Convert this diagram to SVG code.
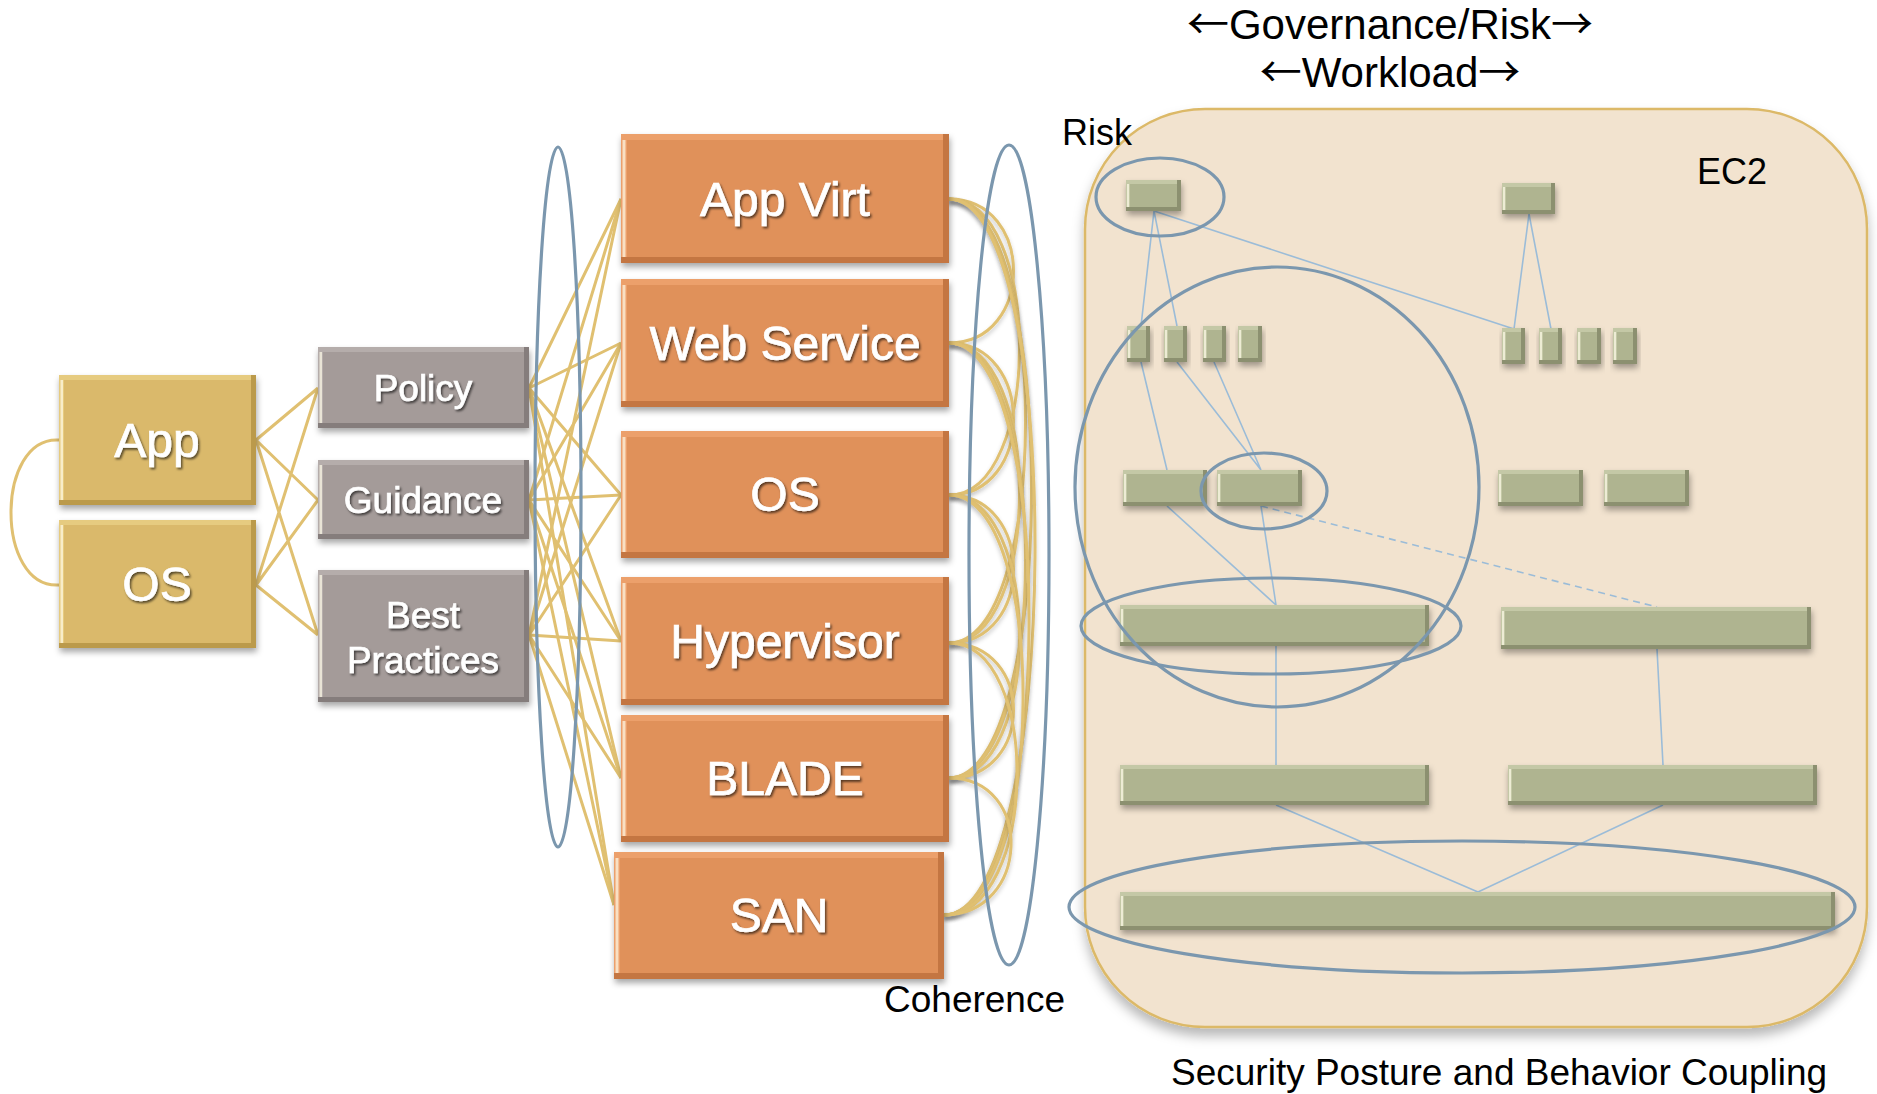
<svg xmlns="http://www.w3.org/2000/svg" width="1877" height="1094" viewBox="0 0 1877 1094">
<defs>
  <filter id="sh" x="-10%" y="-15%" width="125%" height="150%">
    <feDropShadow dx="1" dy="4" stdDeviation="3" flood-color="#000" flood-opacity="0.35"/>
  </filter>
  <filter id="ts" x="-5%" y="-20%" width="115%" height="150%">
    <feDropShadow dx="1.5" dy="2" stdDeviation="1.3" flood-color="#000" flood-opacity="0.6"/>
  </filter>
  <filter id="psh" x="-5%" y="-5%" width="110%" height="115%">
    <feDropShadow dx="0" dy="8" stdDeviation="6" flood-color="#000" flood-opacity="0.28"/>
  </filter>
  <filter id="lsh" x="-10%" y="-10%" width="130%" height="130%">
    <feDropShadow dx="0" dy="3" stdDeviation="2" flood-color="#000" flood-opacity="0.22"/>
  </filter>
</defs>
<style>
  text{font-family:"Liberation Sans",Arial,sans-serif}
  .lbl{fill:#000}
  .arw{font-family:"Noto Sans CJK JP","DejaVu Sans",sans-serif}
  .wt{fill:#fff;stroke:#fff;stroke-width:0.7;text-anchor:middle;filter:url(#ts)}
  .gold .o{fill:#bb9a4b}.gold .l{fill:#e6cb80}.gold .m{fill:#dab96b}
  .grey .o{fill:#857d7b}.grey .l{fill:#b5adab}.grey .m{fill:#a49b99}
  .org .o{fill:#c47643}.org .l{fill:#eca06b}.org .m{fill:#e0915a}
  .grn .o{fill:#8c9070}.grn .l{fill:#c4c8a6}.grn .m{fill:#afb490}
  .hl{fill:#fffbe8;opacity:.7}
  .o{filter:url(#sh)}
  .gl{fill:none;stroke:#e0c071;stroke-width:3}
  .cv{fill:none;stroke:#e0c071;stroke-width:3;filter:url(#lsh)}
  .ring{fill:none;stroke:#7b97ae;stroke-width:3.2}
  .tl{fill:none;stroke:#9bbcd8;stroke-width:1.6}
  .dash{stroke-dasharray:7 5}
</style>

<rect width="1877" height="1094" fill="#fff"/>

<!-- EC2 container -->
<g id="ec2-panel">
  <rect x="1085" y="109" width="782" height="918" rx="120" fill="#f2e3cf" stroke="#dcb968" stroke-width="2.5" filter="url(#psh)"/>
</g>

<g id="connectors">
  <!-- App / OS coupling -->
  <path class="gl" d="M59 440 C-5 436 -5 589 59 585"/>
  <path class="gl" d="M256 440 L318 388 M256 440 L318 500 M256 440 L318 635 M256 585 L318 388 M256 585 L318 500 M256 585 L318 635"/>
  <!-- guidance layer to stack -->
  <path class="gl" d="M529 388 L621 199 M529 388 L621 343 M529 388 L621 495 M529 388 L621 641 M529 388 L621 778 M529 388 L614 905"/>
  <path class="gl" d="M529 500 L621 199 M529 500 L621 343 M529 500 L621 495 M529 500 L621 641 M529 500 L621 778 M529 500 L614 905"/>
  <path class="gl" d="M529 635 L621 199 M529 635 L621 343 M529 635 L621 495 M529 635 L621 641 M529 635 L621 778 M529 635 L614 905"/>
  <!-- coherence among stack layers -->
  <path class="cv" d="M949 199 C1035 199 1035 343 949 343"/>
  <path class="cv" d="M949 199 C1043 199 1043 495 949 495"/>
  <path class="cv" d="M949 199 C1051 199 1051 643 949 643"/>
  <path class="cv" d="M949 199 C1059 199 1059 778 949 778"/>
  <path class="cv" d="M949 199 C1067 199 1062 915 944 915"/>
  <path class="cv" d="M949 343 C1035 343 1035 495 949 495"/>
  <path class="cv" d="M949 343 C1043 343 1043 643 949 643"/>
  <path class="cv" d="M949 343 C1051 343 1051 778 949 778"/>
  <path class="cv" d="M949 343 C1059 343 1054 915 944 915"/>
  <path class="cv" d="M949 495 C1035 495 1035 643 949 643"/>
  <path class="cv" d="M949 495 C1043 495 1043 778 949 778"/>
  <path class="cv" d="M949 495 C1051 495 1046 915 944 915"/>
  <path class="cv" d="M949 643 C1035 643 1035 778 949 778"/>
  <path class="cv" d="M949 643 C1043 643 1038 915 944 915"/>
  <path class="cv" d="M949 778 C1035 778 1030 915 944 915"/>
  <!-- workload tree -->
  <path class="tl" d="M1154 211 L1141 326 M1154 211 L1177 326 M1154 211 L1514 329"/>
  <path class="tl" d="M1529 214 L1514 329 M1529 214 L1551 329"/>
  <path class="tl" d="M1141 362 L1167 470 M1177 362 L1261 470 M1214 362 L1261 470"/>
  <path class="tl" d="M1167 506 L1276 605 M1261 506 L1276 605"/>
  <path class="tl dash" d="M1261 506 L1657 607"/>
  <path class="tl" d="M1276 646 L1276 765 M1657 649 L1663 765"/>
  <path class="tl" d="M1276 805 L1478 892 M1663 805 L1478 892"/>
</g>

<!-- workload nodes -->
<g id="app" class="gold">
  <rect class="o" x="59" y="375" width="197" height="130"/><rect class="l" x="59" y="375" width="192" height="125"/><rect class="m" x="64" y="380" width="187" height="120"/><rect class="hl" x="60.5" y="380" width="2.5" height="120"/>
  <text class="wt" x="157" y="457" font-size="48">App</text>
</g>
<g id="os-left" class="gold">
  <rect class="o" x="59" y="520" width="197" height="128"/><rect class="l" x="59" y="520" width="192" height="123"/><rect class="m" x="64" y="525" width="187" height="118"/><rect class="hl" x="60.5" y="525" width="2.5" height="118"/>
  <text class="wt" x="157" y="601" font-size="48">OS</text>
</g>

<g id="policy" class="grey">
  <rect class="o" x="318" y="347" width="211" height="81"/><rect class="l" x="318" y="347" width="206" height="76"/><rect class="m" x="323" y="352" width="201" height="71"/><rect class="hl" x="319.5" y="352" width="2.5" height="71"/>
  <text class="wt" x="423" y="401" font-size="37">Policy</text>
</g>
<g id="guidance" class="grey">
  <rect class="o" x="318" y="460" width="211" height="79"/><rect class="l" x="318" y="460" width="206" height="74"/><rect class="m" x="323" y="465" width="201" height="69"/><rect class="hl" x="319.5" y="465" width="2.5" height="69"/>
  <text class="wt" x="423" y="513" font-size="37">Guidance</text>
</g>
<g id="best-practices" class="grey">
  <rect class="o" x="318" y="570" width="211" height="132"/><rect class="l" x="318" y="570" width="206" height="127"/><rect class="m" x="323" y="575" width="201" height="122"/><rect class="hl" x="319.5" y="575" width="2.5" height="122"/>
  <text class="wt" x="423" y="628" font-size="37">Best</text>
  <text class="wt" x="423" y="673" font-size="37">Practices</text>
</g>

<g id="app-virt" class="org">
  <rect class="o" x="621" y="134" width="328" height="129"/><rect class="l" x="621" y="134" width="322" height="123"/><rect class="m" x="627" y="140" width="316" height="117"/><rect class="hl" x="622.5" y="140" width="3" height="117"/>
  <text class="wt" x="785" y="216" font-size="48">App Virt</text>
</g>
<g id="web-service" class="org">
  <rect class="o" x="621" y="279" width="328" height="128"/><rect class="l" x="621" y="279" width="322" height="122"/><rect class="m" x="627" y="285" width="316" height="116"/><rect class="hl" x="622.5" y="285" width="3" height="116"/>
  <text class="wt" x="785" y="360" font-size="48">Web Service</text>
</g>
<g id="os-stack" class="org">
  <rect class="o" x="621" y="431" width="328" height="127"/><rect class="l" x="621" y="431" width="322" height="121"/><rect class="m" x="627" y="437" width="316" height="115"/><rect class="hl" x="622.5" y="437" width="3" height="115"/>
  <text class="wt" x="785" y="511" font-size="48">OS</text>
</g>
<g id="hypervisor" class="org">
  <rect class="o" x="621" y="577" width="328" height="128"/><rect class="l" x="621" y="577" width="322" height="122"/><rect class="m" x="627" y="583" width="316" height="116"/><rect class="hl" x="622.5" y="583" width="3" height="116"/>
  <text class="wt" x="785" y="658" font-size="48">Hypervisor</text>
</g>
<g id="blade" class="org">
  <rect class="o" x="621" y="715" width="328" height="127"/><rect class="l" x="621" y="715" width="322" height="121"/><rect class="m" x="627" y="721" width="316" height="115"/><rect class="hl" x="622.5" y="721" width="3" height="115"/>
  <text class="wt" x="785" y="795" font-size="48">BLADE</text>
</g>
<g id="san" class="org">
  <rect class="o" x="614" y="852" width="330" height="127"/><rect class="l" x="614" y="852" width="324" height="121"/><rect class="m" x="620" y="858" width="318" height="115"/><rect class="hl" x="615.5" y="858" width="3" height="115"/>
  <text class="wt" x="779" y="932" font-size="48">SAN</text>
</g>

<!-- EC2 posture tree -->
<g id="risk-root-a" class="grn"><rect class="o" x="1126" y="180" width="55" height="31"/><rect class="l" x="1126" y="180" width="51" height="27"/><rect class="m" x="1130" y="184" width="47" height="23"/><rect class="hl" x="1127" y="184" width="2" height="23"/></g>
<g id="risk-root-b" class="grn"><rect class="o" x="1502" y="183" width="53" height="31"/><rect class="l" x="1502" y="183" width="49" height="27"/><rect class="m" x="1506" y="187" width="45" height="23"/><rect class="hl" x="1503" y="187" width="2" height="23"/></g>

<g id="tier2-a1" class="grn"><rect class="o" x="1127" y="326" width="23" height="36"/><rect class="l" x="1127" y="326" width="19" height="32"/><rect class="m" x="1131" y="330" width="15" height="28"/><rect class="hl" x="1128" y="330" width="2" height="28"/></g>
<g id="tier2-a2" class="grn"><rect class="o" x="1164" y="326" width="23" height="36"/><rect class="l" x="1164" y="326" width="19" height="32"/><rect class="m" x="1168" y="330" width="15" height="28"/><rect class="hl" x="1165" y="330" width="2" height="28"/></g>
<g id="tier2-a3" class="grn"><rect class="o" x="1203" y="326" width="23" height="36"/><rect class="l" x="1203" y="326" width="19" height="32"/><rect class="m" x="1207" y="330" width="15" height="28"/><rect class="hl" x="1204" y="330" width="2" height="28"/></g>
<g id="tier2-a4" class="grn"><rect class="o" x="1238" y="326" width="24" height="36"/><rect class="l" x="1238" y="326" width="20" height="32"/><rect class="m" x="1242" y="330" width="16" height="28"/><rect class="hl" x="1239" y="330" width="2" height="28"/></g>

<g id="tier2-b1" class="grn"><rect class="o" x="1502" y="328" width="23" height="36"/><rect class="l" x="1502" y="328" width="19" height="32"/><rect class="m" x="1506" y="332" width="15" height="28"/><rect class="hl" x="1503" y="332" width="2" height="28"/></g>
<g id="tier2-b2" class="grn"><rect class="o" x="1539" y="328" width="23" height="36"/><rect class="l" x="1539" y="328" width="19" height="32"/><rect class="m" x="1543" y="332" width="15" height="28"/><rect class="hl" x="1540" y="332" width="2" height="28"/></g>
<g id="tier2-b3" class="grn"><rect class="o" x="1577" y="328" width="24" height="36"/><rect class="l" x="1577" y="328" width="20" height="32"/><rect class="m" x="1581" y="332" width="16" height="28"/><rect class="hl" x="1578" y="332" width="2" height="28"/></g>
<g id="tier2-b4" class="grn"><rect class="o" x="1613" y="328" width="24" height="36"/><rect class="l" x="1613" y="328" width="20" height="32"/><rect class="m" x="1617" y="332" width="16" height="28"/><rect class="hl" x="1614" y="332" width="2" height="28"/></g>

<g id="tier3-a1" class="grn"><rect class="o" x="1123" y="470" width="84" height="36"/><rect class="l" x="1123" y="470" width="80" height="32"/><rect class="m" x="1127" y="474" width="76" height="28"/><rect class="hl" x="1124" y="474" width="2" height="28"/></g>
<g id="tier3-a2" class="grn"><rect class="o" x="1217" y="470" width="85" height="36"/><rect class="l" x="1217" y="470" width="81" height="32"/><rect class="m" x="1221" y="474" width="77" height="28"/><rect class="hl" x="1218" y="474" width="2" height="28"/></g>
<g id="tier3-b1" class="grn"><rect class="o" x="1498" y="470" width="85" height="36"/><rect class="l" x="1498" y="470" width="81" height="32"/><rect class="m" x="1502" y="474" width="77" height="28"/><rect class="hl" x="1499" y="474" width="2" height="28"/></g>
<g id="tier3-b2" class="grn"><rect class="o" x="1604" y="470" width="85" height="36"/><rect class="l" x="1604" y="470" width="81" height="32"/><rect class="m" x="1608" y="474" width="77" height="28"/><rect class="hl" x="1605" y="474" width="2" height="28"/></g>

<g id="tier4-a" class="grn"><rect class="o" x="1120" y="605" width="309" height="41"/><rect class="l" x="1120" y="605" width="305" height="37"/><rect class="m" x="1124" y="609" width="301" height="33"/><rect class="hl" x="1121" y="609" width="2" height="33"/></g>
<g id="tier4-b" class="grn"><rect class="o" x="1501" y="607" width="310" height="42"/><rect class="l" x="1501" y="607" width="306" height="38"/><rect class="m" x="1505" y="611" width="302" height="34"/><rect class="hl" x="1502" y="611" width="2" height="34"/></g>
<g id="tier5-a" class="grn"><rect class="o" x="1120" y="765" width="309" height="40"/><rect class="l" x="1120" y="765" width="305" height="36"/><rect class="m" x="1124" y="769" width="301" height="32"/><rect class="hl" x="1121" y="769" width="2" height="32"/></g>
<g id="tier5-b" class="grn"><rect class="o" x="1508" y="765" width="309" height="40"/><rect class="l" x="1508" y="765" width="305" height="36"/><rect class="m" x="1512" y="769" width="301" height="32"/><rect class="hl" x="1509" y="769" width="2" height="32"/></g>
<g id="tier6" class="grn"><rect class="o" x="1120" y="892" width="715" height="38"/><rect class="l" x="1120" y="892" width="711" height="34"/><rect class="m" x="1124" y="896" width="707" height="30"/><rect class="hl" x="1121" y="896" width="2" height="30"/></g>

<!-- grouping rings -->
<g id="groupings">
  <ellipse class="ring" cx="558" cy="497" rx="23" ry="350"/>
  <ellipse class="ring" cx="1009" cy="555" rx="40" ry="410"/>
  <ellipse class="ring" cx="1160" cy="197" rx="64" ry="39"/>
  <ellipse class="ring" cx="1277" cy="487" rx="202" ry="220"/>
  <ellipse class="ring" cx="1264" cy="491" rx="63" ry="38"/>
  <ellipse class="ring" cx="1271" cy="626" rx="190" ry="48"/>
  <ellipse class="ring" cx="1462" cy="907" rx="393" ry="66"/>
</g>

<!-- labels -->
<g id="labels">
  <text class="lbl" x="1390" y="39" font-size="42" text-anchor="middle"><tspan class="arw">←</tspan>Governance/Risk<tspan class="arw">→</tspan></text>
  <text class="lbl" x="1390" y="87" font-size="42" text-anchor="middle"><tspan class="arw">←</tspan>Workload<tspan class="arw">→</tspan></text>
  <text class="lbl" x="1062" y="145" font-size="36">Risk</text>
  <text class="lbl" x="1697" y="184" font-size="36">EC2</text>
  <text class="lbl" x="884" y="1012" font-size="37">Coherence</text>
  <text class="lbl" x="1171" y="1085" font-size="37">Security Posture and Behavior Coupling</text>
</g>
</svg>
